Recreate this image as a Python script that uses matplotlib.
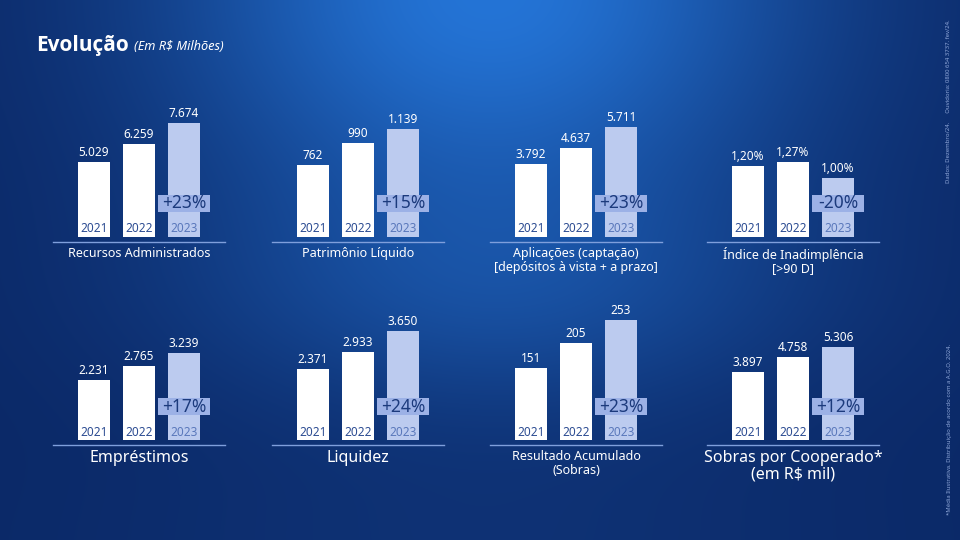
import numpy as np
import matplotlib
matplotlib.use("Agg")
from matplotlib import pyplot as plt
from matplotlib.patches import Rectangle

plt.rcParams['font.family'] = ['Noto Sans', 'DejaVu Sans']

# dados
anos = ["2021", "2022", "2023"]
titulos = ["Recursos Administrados", "Patrimônio Líquido",
           "Aplicações (captação)\n[depósitos à vista + a prazo]",
           "Índice de Inadimplência\n[>90 D]",
           "Empréstimos", "Liquidez", "Resultado Acumulado\n(Sobras)",
           "Sobras por Cooperado*\n(em R$ mil)"]
recursos = [5029, 6259, 7674]
patrimonio = [762, 990, 1139]
aplicacoes = [3792, 4637, 5711]
inadimplencia = [1.20, 1.27, 1.00]
emprestimos = [2231, 2765, 3239]
liquidez = [2371, 2933, 3650]
resultado = [151, 205, 253]
sobras = [3897, 4758, 5306]
rotulos = [["5.029", "6.259", "7.674"], ["762", "990", "1.139"],
           ["3.792", "4.637", "5.711"], ["1,20%", "1,27%", "1,00%"],
           ["2.231", "2.765", "3.239"], ["2.371", "2.933", "3.650"],
           ["151", "205", "253"], ["3.897", "4.758", "5.306"]]
variacao = ["+23%", "+15%", "+23%", "-20%", "+17%", "+24%", "+23%", "+12%"]
series = [recursos, patrimonio, aplicacoes, inadimplencia,
          emprestimos, liquidez, resultado, sobras]

W, H = 960, 540
fig = plt.figure(figsize=(9.6, 5.4), dpi=100)

# fundo em degradê
bg = fig.add_axes([0, 0, 1, 1])
yy, xx = np.mgrid[0:H, 0:W]
f = np.exp(-((xx - 490) / 320.0) ** 2 - ((yy + 10) / 240.0) ** 2)
f += 0.35 * np.exp(-((xx - 500) / 320.0) ** 2 - ((yy - 300) / 120.0) ** 2)
f += 0.12 * np.exp(-((xx - 480) / 380.0) ** 2 - ((yy - 560) / 140.0) ** 2)
f = np.clip(f, 0, 1)[..., None]
escuro = np.array([11, 40, 102]) / 255.0
claro = np.array([36, 116, 214]) / 255.0
img = escuro + (claro - escuro) * f
bg.imshow(img, extent=[0, W, H, 0], aspect='auto')
bg.set_xlim(0, W)
bg.set_ylim(H, 0)
bg.axis('off')

bg.text(36, 46, "Evolução", color='white', fontsize=15, fontweight='bold',
        va='center', family=['Open Sans', 'Lato', 'DejaVu Sans'])
bg.text(134, 47, "(Em R$ Milhões)", color='white', fontsize=9.2, style='italic', va='center')
bg.text(949, 183, "Dados: Dezembro/24.      Ouvidoria: 0800 654 3737. fev/24.",
        color='#8ea6d8', fontsize=4.3, rotation=90, ha='center', va='bottom')
bg.text(949, 515, "*Média Ilustrativa. Distribuição de acordo com a A.G.O. 2024.",
        color='#8ea6d8', fontsize=4.3, rotation=90, ha='center', va='bottom')

esquerdas = [53, 272, 490, 707]
linhas_y = [242, 445]
alturas_max = [114, 108, 110, 75, 87, 109, 120, 93]
tam_titulo = [9, 9, 9, 9, 11.5, 11.5, 9, 11.5]
AH = 150   # altura do eixo em px
AW = 172   # largura do eixo em px
passo = 45.0

for i, vals in enumerate(series):
    col, lin = i % 4, i // 4
    x0, yb = esquerdas[col], linhas_y[lin]
    ax = fig.add_axes([x0 / W, (H - yb) / H, AW / W, AH / H])
    ax.set_facecolor('none')
    s = max(vals) / alturas_max[i]   # valor por pixel
    ax.set_ylim(-5 * s, (AH - 5) * s)
    meia = AW / passo / 2
    ax.set_xlim(1 - meia, 1 + meia)
    xs = np.arange(3)
    cores = ['white', 'white', '#bccbef']
    ax.bar(xs, vals, width=32 / passo, color=cores, zorder=2)
    for sp in ['top', 'left', 'right']:
        ax.spines[sp].set_visible(False)
    ax.spines['bottom'].set_color('#7f9fdc')
    ax.spines['bottom'].set_linewidth(1)
    ax.set_xticks([])
    ax.set_yticks([])

    for x, v, r in zip(xs, vals, rotulos[i]):
        ax.annotate(r, (x, v), xytext=(0, 3), textcoords='offset pixels',
                    ha='center', va='bottom', color='white', fontsize=8.5)
    for x, a in zip(xs, anos):
        ax.annotate(a, (x, 0), xytext=(0, 8), textcoords='offset pixels',
                    ha='center', va='center', fontsize=8.5,
                    color='#2c4c92' if x < 2 else '#5a78bb', zorder=4)

    # selo de variação
    bx = 2 - 26 / passo
    ax.add_patch(Rectangle((bx, 25 * s), 52 / passo, 17 * s,
                           facecolor='#9cb1e6', edgecolor='none', zorder=3))
    ax.text(2, 33.5 * s, variacao[i], ha='center', va='center',
            fontsize=12.5, color='#1c3a7c', zorder=4)

    ax.annotate(titulos[i], (0.5, 0), xycoords='axes fraction', xytext=(0, -5),
                textcoords='offset pixels', ha='center', va='top',
                color='white', fontsize=tam_titulo[i], linespacing=1.05)

fig.savefig("out.png", dpi=100)
